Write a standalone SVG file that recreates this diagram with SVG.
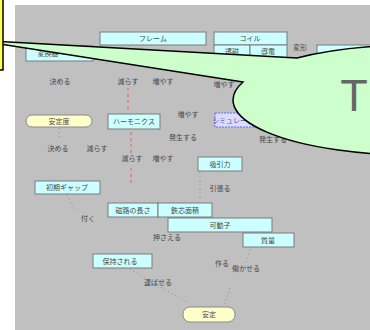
<svg xmlns="http://www.w3.org/2000/svg" width="370" height="330" viewBox="0 0 370 330">
<style>
.bg{fill:#c0c0c0}
.box{fill:#ccffff;stroke:#7a7a7a;stroke-width:1}
.rbox{fill:#ffffcc;stroke:#8a8a8a;stroke-width:1}
.dbox{fill:#dcdcff;stroke:#6666ff;stroke-width:1;stroke-dasharray:2 1}
text{font-family:"Noto Sans CJK JP","Liberation Sans",sans-serif;font-size:7px;fill:#484848;text-anchor:middle}
.con{fill:none;stroke:#8c8c8c;stroke-width:1;stroke-dasharray:1 3}
.red{fill:none;stroke:#e06060;stroke-width:1;stroke-dasharray:3 3}
.callout{fill:#ccffcc;stroke:#000;stroke-width:1.5}
.note{fill:#ffff55;stroke:#000;stroke-width:1.5}
</style>
<rect x="0" y="0" width="370" height="330" fill="#ffffff"/>
<rect class="bg" x="15" y="5" width="355" height="325"/>

<g id="n-frame"><rect class="box" x="100" y="32" width="106" height="13"/><text x="153" y="41">フレーム</text></g>
<g id="n-coil"><rect class="box" x="214" y="32" width="73" height="13"/><text x="250" y="41">コイル</text></g>
<g id="n-tojiritsu"><rect class="box" x="214" y="45" width="36" height="13"/><text x="232" y="54">透磁</text></g>
<g id="n-doden"><rect class="box" x="250" y="45" width="37" height="13"/><text x="268" y="54">導電</text></g>
<g id="n-henkan"><rect class="box" x="26" y="46" width="67" height="15"/><text x="48" y="56">変換器</text></g>
<g id="n-right"><rect class="box" x="317" y="45" width="60" height="13"/></g>
<g id="t-henkei"><text x="300" y="50">変形</text></g>
<g id="t-kimeru1"><text x="60" y="84">決める</text></g>
<g id="t-herasu1"><text x="128" y="84">減らす</text></g>
<g id="t-fuyasu1"><text x="163" y="84">増やす</text></g>
<g id="t-fuyasu2"><text x="224" y="87">増やす</text></g>

<g id="n-anteido"><rect class="rbox" x="26" y="115" width="66" height="12" rx="6"/><text x="59" y="124">安定度</text></g>
<g id="n-harmonics"><rect class="box" x="108" y="114" width="52" height="15"/><text x="134" y="124">ハーモニクス</text></g>
<g id="t-fuyasu3"><text x="188" y="117">増やす</text></g>
<g id="n-sim"><rect class="dbox" x="215" y="113" width="50" height="14"/><text x="240" y="123" style="fill:#5050c0">シミュレーション</text></g>
<g id="t-hassei1"><text x="183" y="140">発生する</text></g>
<g id="t-hassei2"><text x="273" y="142">発生する</text></g>
<g id="t-kimeru2"><text x="58" y="151">決める</text></g>
<g id="t-herasu2"><text x="97" y="151">減らす</text></g>
<g id="t-herasu3"><text x="132" y="161">減らす</text></g>
<g id="t-fuyasu4"><text x="163" y="161">増やす</text></g>
<g id="n-kyuin"><rect class="box" x="198" y="157" width="44" height="14"/><text x="220" y="167">吸引力</text></g>
<g id="n-gap"><rect class="box" x="35" y="181" width="65" height="13"/><text x="67" y="190">初期ギャップ</text></g>
<g id="t-hipparu"><text x="220" y="191">引張る</text></g>
<g id="n-jiro"><rect class="box" x="108" y="203" width="50" height="14"/><text x="133" y="213">磁路の長さ</text></g>
<g id="n-tesshin"><rect class="box" x="158" y="203" width="54" height="14"/><text x="185" y="213">鉄芯面積</text></g>
<g id="t-tsuku"><text x="88" y="221">付く</text></g>
<g id="n-kadoushi"><rect class="box" x="168" y="218" width="104" height="14"/><text x="220" y="228">可動子</text></g>
<g id="t-osaeru"><text x="167" y="240">押さえる</text></g>
<g id="n-shitsuryo"><rect class="box" x="243" y="233" width="51" height="14"/><text x="268" y="243">質量</text></g>
<g id="n-hoji"><rect class="box" x="93" y="254" width="59" height="14"/><text x="120" y="264">保持される</text></g>
<g id="t-tsukuru"><text x="222" y="266">作る</text></g>
<g id="t-hatarakaseru"><text x="246" y="271">働かせる</text></g>
<g id="t-hakobaseru"><text x="158" y="285">運ばせる</text></g>
<g id="n-antei"><rect class="rbox" x="183" y="307" width="52" height="15" rx="7"/><text x="209" y="317">安定</text></g>

<g id="connectors">
<path class="red" d="M128 88V112"/>
<path class="red" d="M131 132V153M131 168V186"/>
<path class="con" d="M59 128V138"/>
<path class="con" d="M67 195L75 210"/>
<path class="con" d="M130 269L188 303"/>
<path class="con" d="M230 288L224 306"/>
<path class="con" d="M250 250L246 262"/>
<path class="con" d="M200 172L200 200"/>
</g>

<path class="callout" d="M-25 40L297 58A180 55 0 1 1 243 82Z"/>
<text x="354" y="111" style="font-family:'Liberation Sans',sans-serif;font-size:45px;fill:#666666">T</text>
<rect class="note" x="-10" y="-2" width="13" height="72"/>
</svg>
